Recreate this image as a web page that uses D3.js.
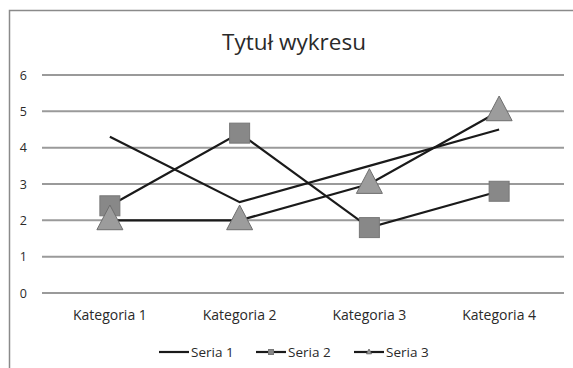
<!DOCTYPE html>
<html>
<head>
<meta charset="utf-8">
<script src="https://cdn.jsdelivr.net/npm/d3@7"></script>
<style>
  body { margin: 0; background: #fff; }
  svg text { font-family: "Open Sans", "Noto Sans", sans-serif; fill: #2a2a2a; }
</style>
</head>
<body>
<svg id="chart" width="573" height="368"></svg>
<script>
const categories = ["Kategoria 1", "Kategoria 2", "Kategoria 3", "Kategoria 4"];
const seria1 = [4.3, 2.5, 3.5, 4.5];
const seria2 = [2.4, 4.4, 1.8, 2.8];
const seria3 = [2, 2, 3, 5];
const yTicks = [0, 1, 2, 3, 4, 5, 6];
const seriesNames = ["Seria 1", "Seria 2", "Seria 3"];
const title = "Tytuł wykresu";

const series = [
  { name: seriesNames[0], values: seria1, marker: null },
  { name: seriesNames[1], values: seria2, marker: "square" },
  { name: seriesNames[2], values: seria3, marker: "triangle" }
];

const svg = d3.select("#chart");
const W = 573, H = 368;

// chart area frame
svg.append("rect")
  .attr("x", 9.5).attr("y", 10.5)
  .attr("width", W).attr("height", H)
  .attr("fill", "#fff").attr("stroke", "#8a8a8a").attr("stroke-width", 1.5);

const plot = { left: 45, right: 564, top: 75, bottom: 293 };

const x = d3.scaleBand().domain(categories).range([plot.left, plot.right]);
const y = d3.scaleLinear().domain([0, 6]).range([plot.bottom, plot.top]);

svg.append("text")
  .attr("x", 294).attr("y", 50)
  .attr("text-anchor", "middle")
  .attr("font-size", 22.5)
  .text(title);

// horizontal gridlines
svg.append("g").selectAll("line").data(yTicks).join("line")
  .attr("x1", plot.left - 3).attr("x2", plot.right)
  .attr("y1", d => y(d)).attr("y2", d => y(d))
  .attr("stroke", "#9a9a9a").attr("stroke-width", 2);

// y axis labels
const yAxis = d3.axisLeft(y).tickValues(yTicks).tickFormat(d3.format("d")).tickSize(0).tickPadding(0);
const gy = svg.append("g").attr("transform", `translate(27,0)`).call(yAxis);
gy.select(".domain").remove();
gy.selectAll("text").attr("font-size", 12.5).attr("fill", "#2a2a2a")
  .attr("font-family", "\"Open Sans\", sans-serif");

// x axis labels
const xAxis = d3.axisBottom(x).tickSize(0).tickPadding(0);
const gx = svg.append("g").attr("transform", `translate(0,${plot.bottom + 17})`).call(xAxis);
gx.select(".domain").remove();
gx.selectAll("text").attr("font-size", 14).attr("fill", "#2a2a2a")
  .attr("font-family", "\"Open Sans\", sans-serif");

const cx = c => x(c) + x.bandwidth() / 2;
const line = d3.line().x((d, i) => cx(categories[i])).y(d => y(d));

series.forEach(s => {
  svg.append("path")
    .datum(s.values)
    .attr("d", line)
    .attr("fill", "none")
    .attr("stroke", "#1a1a1a")
    .attr("stroke-width", 2.2);
});

function drawMarker(g, type, px, py, size) {
  if (type === "square") {
    g.append("rect")
      .attr("x", px - size / 2).attr("y", py - size / 2)
      .attr("width", size).attr("height", size)
      .attr("fill", "#888").attr("stroke", "#777").attr("stroke-width", 1);
  } else if (type === "triangle") {
    const h = size * 0.95;
    g.append("path")
      .attr("d", `M${px},${py - h * 0.62} L${px + size / 2},${py + h * 0.38} L${px - size / 2},${py + h * 0.38} Z`)
      .attr("fill", "#9c9c9c").attr("stroke", "#6e6e6e").attr("stroke-width", 1);
  }
}

const mk = svg.append("g");
series.forEach(s => {
  if (!s.marker) return;
  s.values.forEach((v, i) => {
    drawMarker(mk, s.marker, cx(categories[i]), y(v), s.marker === "square" ? 20 : 26);
  });
});

// legend
const legendY = 352;
const legendX = [159, 256, 354];
series.forEach((s, i) => {
  const g = svg.append("g");
  g.append("line")
    .attr("x1", legendX[i]).attr("x2", legendX[i] + 30)
    .attr("y1", legendY).attr("y2", legendY)
    .attr("stroke", "#1a1a1a").attr("stroke-width", 2.2);
  if (s.marker) drawMarker(g, s.marker, legendX[i] + 15, legendY, 5);
  g.append("text")
    .attr("x", legendX[i] + 32).attr("y", legendY + 5)
    .attr("font-size", 13.5)
    .text(s.name);
});
</script>
</body>
</html>
